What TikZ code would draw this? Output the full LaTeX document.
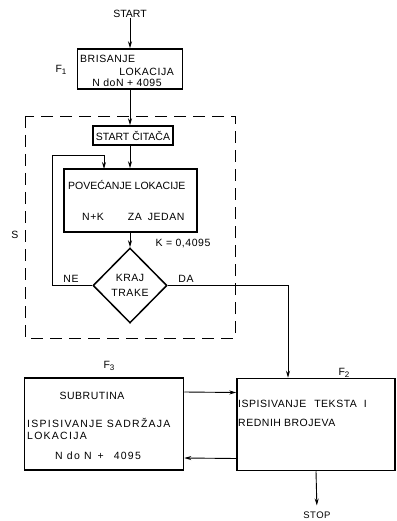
\documentclass[tikz,border=0pt]{standalone}
\usepackage{fontspec}
\setmainfont{Liberation Sans}
\newfontfamily\widefont[LetterSpace=12]{Liberation Sans}
\newfontfamily\midfont[LetterSpace=5]{Liberation Sans}
\usetikzlibrary{shapes.geometric,arrows.meta}

\tikzset{
	box/.style={draw, line width=1.5pt, inner sep=0pt},
	txt/.style={inner sep=0pt, font=\fontsize{10.5}{12}\selectfont},
	mtxt/.style={inner sep=0pt, font=\fontsize{10.5}{12}\midfont},
	wtxt/.style={inner sep=0pt, font=\fontsize{10.5}{12}\widefont},
	arr/.style={line width=0.9pt, -{Stealth[length=7pt,width=4pt]}},
	frame/.style={line width=0.9pt, dash pattern=on 12pt off 7pt}
}
\newcommand{\fsub}[1]{F\lower2pt\hbox{\fontsize{8}{9}\selectfont #1}}

\begin{document}
\begin{tikzpicture}[x=1pt,y=-1pt]
	\useasboundingbox (0,0) rectangle (396,521);
	% start and F1
	\node[txt] (start) at (130,14) {START};
	\node[box, minimum width=105pt, minimum height=40pt] (f1) at (130,69) {};
	\node[mtxt, anchor=west] (f1a) at (80,59) {BRISANJE};
	\node[mtxt, anchor=east] (f1b) at (174,72) {LOKACIJA};
	\node[mtxt] (f1c) at (127,83) {N doN + 4095};
	\node[txt] (f1lbl) at (61,70) {\fsub{1}};
	\draw[arr] (start) -- (f1);

	% reading loop S
	\draw[frame] (25,116) rectangle (235,338);
	\node[txt] (slbl) at (15,235) {S};
	\node[box, txt, minimum width=80pt, minimum height=19pt] (cit) at (133,135.5) {START ČITAČA};
	\node[box, minimum width=133pt, minimum height=63pt] (pov) at (130.5,200.5) {};
	\node[txt, anchor=west] (pova) at (68,185) {POVEĆANJE LOKACIJE};
	\node[mtxt, anchor=west] (povb) at (82,217) {N+K\hspace{24pt}ZA\hspace{6pt}JEDAN};
	\node[mtxt] (kval) at (183,244) {K = 0,4095};
	\node[box, shape=diamond, minimum width=74pt, minimum height=75pt,
		mtxt, align=center] (dia) at (130,285.5) {KRAJ\\[3pt]TRAKE};
	\node[mtxt] (ne) at (71,279) {NE};
	\node[mtxt] (da) at (186,279) {DA};
	\coordinate (lp) at (52,155);
	\coordinate (lpin) at (104,169);
	\draw[arr] (f1.south) -- (f1.south |- cit.north);
	\draw[arr] (f1.south |- cit.south) -- (f1.south |- pov.north);
	\draw[arr] (dia.north |- pov.south) -- (dia.north);
	\draw[arr] (dia.west) -| (lp) -| (lpin);

	% output part
	\node[box, minimum width=159pt, minimum height=92pt] (f3) at (104,424) {};
	\node[box, minimum width=158pt, minimum height=92pt] (f2) at (316,424.5) {};
	\node[txt] (f3lbl) at (109,366) {\fsub{3}};
	\node[txt] (f2lbl) at (344,373) {\fsub{2}};
	\node[mtxt] (f3a) at (92,396) {SUBRUTINA};
	\node[wtxt, anchor=west] (f3b) at (27,423) {ISPISIVANJE SADRŽAJA};
	\node[wtxt, anchor=west] (f3c) at (27,436) {LOKACIJA};
	\node[wtxt, anchor=west] (f3d) at (55,456) {N do N\hspace{6pt}+\hspace{10pt}4095};
	\node[mtxt, anchor=west] (f2a) at (238,404) {ISPISIVANJE\hspace{8pt}TEKSTA\hspace{7pt}I};
	\node[mtxt, anchor=west] (f2b) at (238,423) {REDNIH\hspace{3pt}BROJEVA};
	\node[txt, font=\fontsize{9.5}{11}\midfont] (stop) at (317,515) {STOP};
	\draw[arr] (dia.east) -| ([xshift=-28pt]f2.north);
	\draw[arr] ([yshift=32pt]f3.east) -- ([yshift=32pt]f2.west);
	\draw[arr] ([yshift=-34pt]f2.west) -- ([yshift=-34pt]f3.east);
	\draw[arr, shorten >=6pt] (f2.south) -- (stop.north);
\end{tikzpicture}
\end{document}
